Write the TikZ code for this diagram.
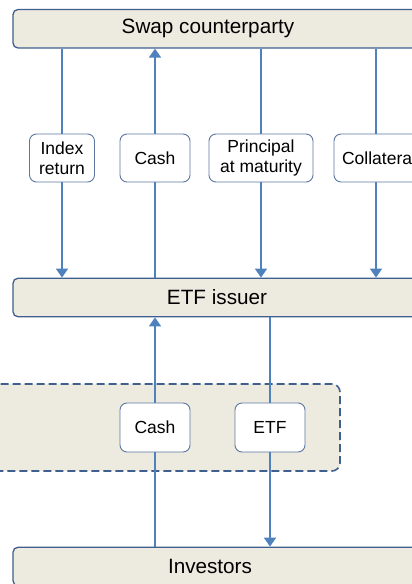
\documentclass[tikz,border=0pt]{standalone}
\usepackage{fontspec}
\setmainfont{Liberation Sans}
\usepackage{tikz}
\usetikzlibrary{arrows.meta}
\definecolor{boxfill}{HTML}{EDEAE0}
\definecolor{boxline}{HTML}{3F5F8F}
\definecolor{flow}{HTML}{4F81BD}

\begin{document}
\begin{tikzpicture}[x=1pt, y=1pt,
    party/.style={draw=boxline, line width=1.3pt, fill=boxfill, rounded corners=5pt,
        minimum width=408pt, minimum height=38.5pt, inner sep=0pt, font=\fontsize{20.7}{24}\selectfont},
    tag/.style={draw=boxline!85, line width=0.9pt, fill=white, rounded corners=7pt,
        minimum height=48pt, inner sep=0pt, align=center, font=\fontsize{17.5}{20.5}\selectfont},
    flowline/.style={draw=flow, line width=1.8pt},
    flowarrow/.style={flowline, -{Triangle[width=12pt,length=9pt]}}]
\useasboundingbox (0,0) rectangle (412,584);

% dashed area
\draw[boxline, fill=boxfill, line width=1.6pt, dash pattern=on 8pt off 4pt, rounded corners=8pt]
    (-20,113) rectangle (340,200);

% parties
\node[party] (swap) at (217,555.25) {\hspace*{-18pt}Swap counterparty};
\node[party] (etf) at (217,286.5) {ETF issuer};
\node[party] (inv) at (217,17.5) {\hspace*{-14pt}Investors};

% labels between swap counterparty and issuer
\node[tag, minimum width=65pt] (ret) at (62,426) {Index\\return};
\node[tag, minimum width=70pt] (cash) at (155,426) {Cash};
\node[tag, minimum width=104pt] (prin) at (261,426) {Principal\\at maturity};
\node[tag, minimum width=90pt] (coll) at (379,426) {Collateral};

% labels between issuer and investors
\node[tag, minimum width=70pt, minimum height=49pt] (cashb) at (155,156.5) {Cash};
\node[tag, minimum width=70pt, minimum height=49pt] (etfb) at (270,156.5) {ETF};

% swap flows
\draw[flowline] (swap.south -| ret) -- (ret.north);
\draw[flowarrow] (ret.south) -- (ret.south |- etf.north);
\draw[flowline] (etf.north -| cash) -- (cash.south);
\draw[flowarrow] (cash.north) -- (cash.north |- swap.south);
\draw[flowline] (swap.south -| prin) -- (prin.north);
\draw[flowarrow] (prin.south) -- (prin.south |- etf.north);
\draw[flowline] ([xshift=-3pt]coll.north |- swap.south) -- ([xshift=-3pt]coll.north);
\draw[flowarrow] ([xshift=-3pt]coll.south) -- ([xshift=-3pt]coll.south |- etf.north);

% investor flows
\draw[flowline] (inv.north -| cashb) -- (cashb.south);
\draw[flowarrow] (cashb.north) -- (cashb.north |- etf.south);
\draw[flowline] (etf.south -| etfb) -- (etfb.north);
\draw[flowarrow] (etfb.south) -- (etfb.south |- inv.north);
\end{tikzpicture}
\end{document}
